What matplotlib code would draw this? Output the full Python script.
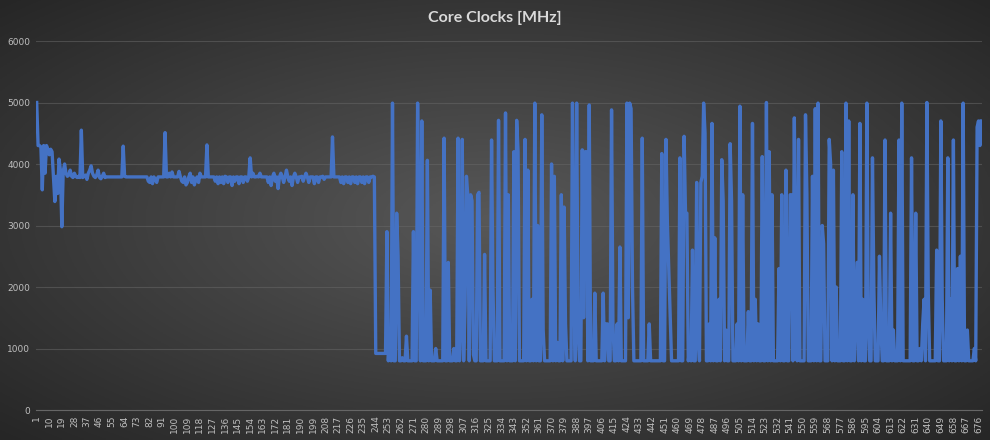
import matplotlib
matplotlib.use('Agg')
import matplotlib.pyplot as plt
import numpy as np

TITLE = 'Core Clocks [MHz]'
Y_TICKS = [0, 1000, 2000, 3000, 4000, 5000, 6000]

# core clock samples [MHz], 10 per line, sample 1 first
CLOCK_MHZ = [
    5000, 4300, 4300, 4280, 3580, 4300, 3850, 4300, 4240, 4150,
    4240, 4200, 3800, 3390, 3800, 3520, 4080, 3900, 2980, 3880,
    4000, 3850, 3800, 3820, 3900, 3800, 3780, 3850, 3800, 3780,
    3800, 3780, 4550, 3780, 3800, 3820, 3750, 3850, 3900, 3970,
    3850, 3800, 3780, 3820, 3900, 3780, 3760, 3800, 3850, 3780,
    3790, 3790, 3790, 3790, 3790, 3790, 3790, 3790, 3790, 3790,
    3790, 3790, 4290, 3800, 3790, 3790, 3790, 3790, 3790, 3790,
    3790, 3790, 3790, 3790, 3790, 3790, 3790, 3790, 3790, 3790,
    3720, 3700, 3790, 3680, 3790, 3750, 3700, 3790, 3790, 3790,
    3790, 3790, 4510, 3790, 3790, 3850, 3790, 3870, 3790, 3790,
    3790, 3790, 3880, 3790, 3720, 3700, 3790, 3660, 3700, 3790,
    3850, 3700, 3790, 3660, 3750, 3790, 3700, 3850, 3790, 3790,
    3790, 3790, 4310, 3790, 3790, 3790, 3790, 3790, 3720, 3790,
    3680, 3790, 3700, 3790, 3680, 3800, 3790, 3700, 3790, 3790,
    3650, 3790, 3720, 3790, 3790, 3680, 3790, 3790, 3700, 3790,
    3790, 3720, 3790, 4100, 3790, 3850, 3790, 3790, 3800, 3790,
    3850, 3790, 3790, 3790, 3790, 3790, 3700, 3790, 3650, 3790,
    3850, 3720, 3790, 3600, 3790, 3850, 3790, 3700, 3790, 3900,
    3790, 3720, 3790, 3650, 3790, 3850, 3790, 3700, 3790, 3790,
    3800, 3720, 3790, 3850, 3790, 3700, 3790, 3790, 3790, 3680,
    3790, 3790, 3700, 3790, 3790, 3800, 3750, 3790, 3790, 3790,
    3790, 3790, 4440, 3790, 3790, 3790, 3790, 3790, 3700, 3790,
    3680, 3790, 3790, 3700, 3790, 3680, 3790, 3790, 3700, 3790,
    3680, 3790, 3790, 3700, 3790, 3680, 3790, 3790, 3700, 3790,
    3790, 3800, 3790, 920, 920, 920, 920, 920, 920, 920,
    920, 2900, 800, 1200, 800, 4990, 800, 800, 3200, 2500,
    800, 800, 850, 800, 800, 1200, 800, 800, 800, 800,
    2900, 800, 800, 4990, 2800, 800, 4700, 800, 800, 800,
    4060, 800, 1950, 800, 800, 800, 1000, 800, 800, 800,
    800, 800, 4420, 800, 800, 2400, 800, 800, 800, 1000,
    800, 800, 4420, 800, 1400, 4400, 800, 1700, 3800, 3480,
    800, 3500, 3400, 900, 800, 800, 3500, 3540, 800, 800,
    800, 2530, 800, 800, 800, 800, 4390, 2000, 800, 800,
    800, 4710, 800, 800, 800, 800, 4830, 800, 3500, 800,
    800, 800, 4200, 800, 4710, 4200, 800, 800, 800, 800,
    4400, 800, 3900, 800, 800, 1800, 800, 4990, 800, 3000,
    800, 800, 4800, 1300, 800, 800, 800, 800, 800, 4000,
    800, 3800, 800, 1100, 800, 800, 3500, 800, 3300, 1400,
    800, 800, 800, 800, 4990, 2000, 800, 4990, 1300, 800,
    800, 4230, 1500, 4200, 4200, 800, 4960, 800, 800, 800,
    1900, 800, 800, 800, 800, 800, 1900, 800, 1400, 1400,
    800, 800, 4880, 1400, 800, 800, 1400, 800, 2650, 800,
    800, 800, 800, 4990, 1500, 4990, 4900, 2000, 800, 800,
    800, 800, 800, 800, 4420, 800, 800, 800, 800, 1400,
    800, 800, 800, 800, 800, 800, 800, 800, 4170, 800,
    800, 4400, 3050, 2300, 1600, 800, 800, 800, 800, 800,
    800, 4100, 800, 800, 4450, 3200, 3200, 800, 1000, 800,
    2600, 800, 800, 3700, 1200, 800, 3700, 3800, 4990, 4500,
    800, 800, 1400, 800, 4660, 800, 2800, 800, 800, 1800,
    800, 4070, 3400, 800, 1300, 800, 800, 4330, 3400, 800,
    800, 800, 1400, 800, 4940, 800, 3500, 800, 800, 800,
    1600, 800, 800, 4660, 800, 1800, 800, 1400, 800, 800,
    4120, 800, 800, 5000, 800, 4200, 800, 3500, 800, 800,
    800, 800, 2300, 800, 3500, 800, 800, 3900, 800, 800,
    3500, 3500, 800, 4750, 1950, 800, 4400, 800, 800, 800,
    800, 4800, 3500, 800, 800, 800, 3800, 800, 4900, 800,
    4990, 800, 800, 3000, 2700, 800, 800, 800, 4400, 4000,
    800, 3900, 800, 2000, 800, 800, 800, 4200, 800, 800,
    4990, 800, 4700, 800, 800, 3500, 800, 1600, 2400, 800,
    4660, 800, 1800, 800, 800, 4990, 1500, 800, 800, 4100,
    2000, 800, 800, 800, 2500, 1400, 800, 800, 4390, 800,
    800, 800, 3200, 800, 1300, 800, 800, 800, 4390, 800,
    4990, 800, 800, 800, 800, 800, 800, 4100, 800, 800,
    3200, 800, 800, 1000, 800, 1400, 1800, 800, 5000, 1900,
    800, 800, 800, 800, 800, 2600, 800, 800, 4700, 1800,
    800, 800, 800, 4100, 800, 1800, 800, 4390, 800, 800,
    2300, 800, 2500, 800, 4990, 800, 800, 1300, 800, 800,
    800, 800, 1000, 800, 4600, 4700, 4300, 4700,
]

samples = np.arange(1, len(CLOCK_MHZ) + 1)
x_labels = list(range(1, len(CLOCK_MHZ) + 1, 9))

fig = plt.figure(figsize=(9.9, 4.4), dpi=100)

# radial dark background like the excel chart style
bg = fig.add_axes([0, 0, 1, 1], zorder=0)
gx, gy = np.meshgrid(np.linspace(-1, 1, 400), np.linspace(-1, 1, 200))
r = np.clip(np.sqrt(gx ** 2 + gy ** 2) / np.sqrt(2), 0, 1)
shade = (0x58 + (0x26 - 0x58) * r) / 255.0
bg.imshow(np.dstack([shade, shade, shade]), aspect='auto', extent=[0, 1, 0, 1])
bg.axis('off')

ax = fig.add_axes([36 / 990, 30 / 440, 946 / 990, 369 / 440], zorder=1)
ax.patch.set_alpha(0)

ax.plot(samples, CLOCK_MHZ, color='#4472C4', lw=2.4, solid_joinstyle='round')

ax.set_xlim(0.5, len(CLOCK_MHZ) + 0.5)
ax.set_ylim(0, 6000)
ax.set_yticks(Y_TICKS)
ax.set_yticklabels([str(v) for v in Y_TICKS], color='#bfbfbf', fontsize=6.5)
ax.set_xticks(x_labels)
ax.set_xticklabels([str(v) for v in x_labels], rotation=90, color='#bfbfbf', fontsize=6.5)
ax.tick_params(length=0, pad=4)
ax.grid(axis='y', color='#666666', lw=0.8, alpha=0.55)
ax.set_axisbelow(True)
for s in ['top', 'right', 'left']:
    ax.spines[s].set_visible(False)
ax.spines['bottom'].set_color('#666666')
ax.spines['bottom'].set_linewidth(0.8)

fig.text(0.5, 1 - 18 / 440, TITLE, ha='center', va='center', color='#d9d9d9',
         fontsize=11.5, fontweight='bold', family=['Lato', 'DejaVu Sans'])

plt.savefig('out.png', dpi=100)
